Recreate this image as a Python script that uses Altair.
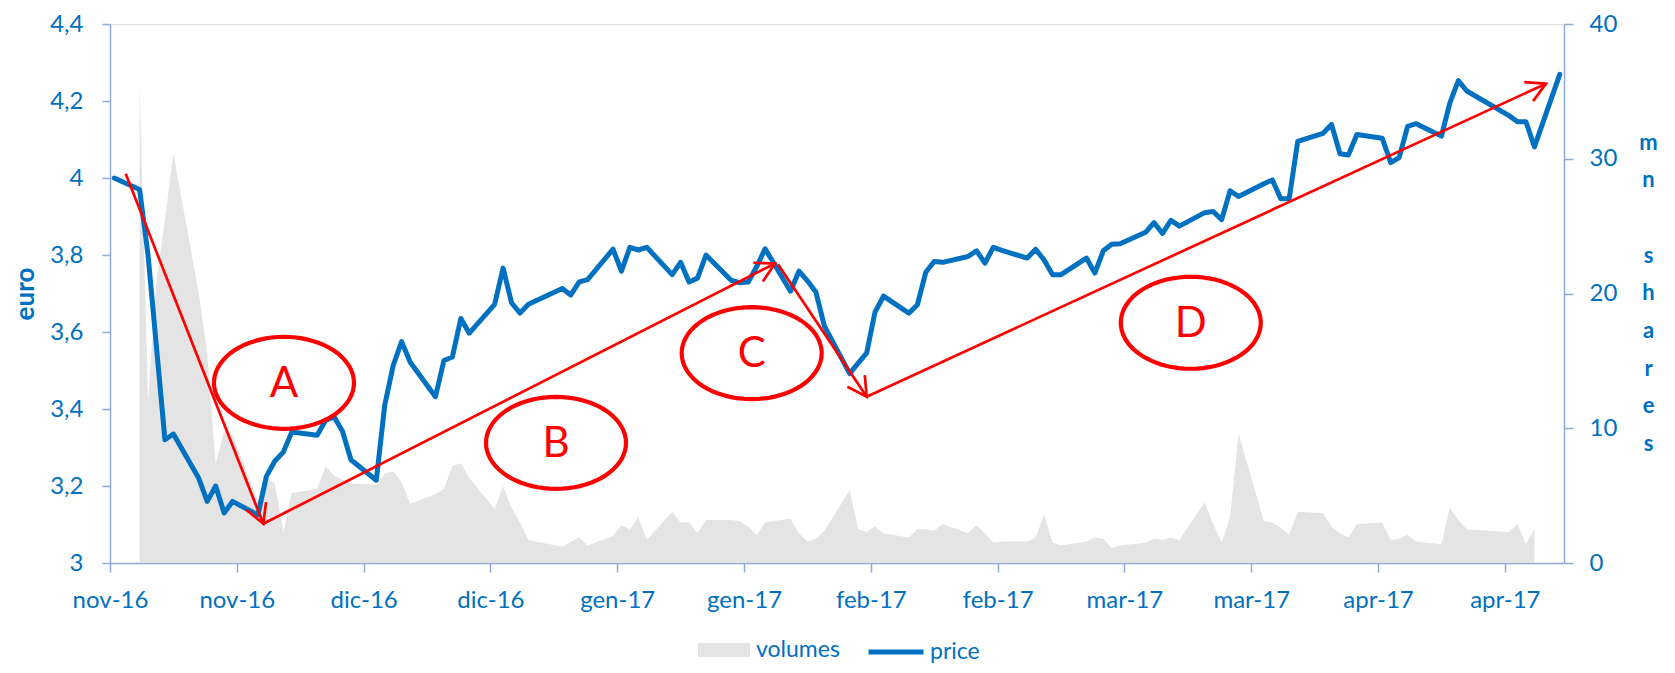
import math
import altair as alt
import pandas as pd

# ---------------- data ----------------
START = "2016-11-04"
END = "2017-04-24"
HOLIDAYS = ["2016-12-26", "2017-04-14", "2017-04-17"]

# daily closing price (euro), one value per trading day
price = [
    4.00,
    3.97, 3.80, 3.56, 3.32, 3.335,
    3.22, 3.16, 3.20, 3.13, 3.16,
    3.125, 3.225, 3.265, 3.288, 3.34,
    3.332, 3.37, 3.38, 3.342, 3.268,
    3.215, 3.41, 3.513, 3.575, 3.522,
    3.432, 3.526, 3.535, 3.635, 3.597,
    3.672, 3.766, 3.676, 3.649, 3.672,
    3.713, 3.696, 3.73, 3.736,
    3.815, 3.758, 3.82, 3.813, 3.82,
    3.749, 3.781, 3.73, 3.74, 3.80,
    3.734, 3.728, 3.73, 3.77, 3.816,
    3.706, 3.758, 3.733, 3.704, 3.616,
    3.492, 3.519, 3.545, 3.652, 3.693,
    3.649, 3.67, 3.755, 3.783, 3.781,
    3.796, 3.811, 3.779, 3.82, 3.812,
    3.792, 3.815, 3.787, 3.749, 3.749,
    3.792, 3.753, 3.811, 3.828, 3.829,
    3.859, 3.884, 3.856, 3.89, 3.875,
    3.91, 3.913, 3.892, 3.967, 3.952,
    3.985, 3.995, 3.946, 3.947, 4.095,
    4.116, 4.139, 4.063, 4.06, 4.113,
    4.103, 4.04, 4.053, 4.134, 4.141,
    4.109, 4.195, 4.253, 4.226,
    4.162, 4.146, 4.146, 4.081,
    4.269,
]

# daily volumes (mn shares), from the 2nd to the second-last trading day
volumes = [
    35.6, 12.0, 21.0, 25.5, 30.4,
    20.0, 15.6, 7.3, 9.8, 9.5,
    4.6, 6.3, 5.9, 2.3, 5.2,
    5.5, 7.2, 6.5, 6.2, 5.9,
    5.8, 6.6, 6.8, 6.0, 4.4,
    5.1, 5.5, 7.2, 7.4, 6.3,
    4.0, 5.7, 4.1, 3.0, 1.7,
    1.2, 1.6, 1.9, 1.3,
    2.0, 2.8, 2.5, 3.4, 1.7,
    3.8, 3.0, 3.0, 2.2, 3.2,
    3.2, 3.1, 2.7, 2.1, 3.0,
    3.3, 2.2, 1.6, 1.8, 2.4,
    5.4, 2.5, 2.3, 2.7, 2.2,
    1.9, 2.5, 2.5, 2.4, 2.9,
    2.2, 2.8, 2.2, 1.5, 1.6,
    1.6, 1.9, 3.6, 1.5, 1.3,
    1.6, 1.9, 1.8, 1.1, 1.3,
    1.5, 1.8, 1.7, 1.9, 1.7,
    4.5, 2.9, 1.5, 3.4, 9.6,
    3.1, 3.0, 2.6, 2.1, 3.8,
    3.7, 2.7, 2.2, 1.9, 2.9,
    3.0, 1.7, 1.8, 2.1, 1.6,
    1.4, 4.1, 3.2, 2.5,
    2.3, 2.9, 1.4, 2.5,
]

tick_labels = ["nov-16", "nov-16", "dic-16", "dic-16", "gen-17", "gen-17",
               "feb-17", "feb-17", "mar-17", "mar-17", "apr-17", "apr-17"]
TICK_STEP = 15  # days between axis ticks

# annotations (x in days from START, y in euro)
arrow_x1 = [1.86, 18.13, 79.02, 89.51]
arrow_y1 = [4.011, 3.102, 3.776, 3.432]
arrow_x2 = [18.13, 78.67, 89.51, 169.87]
arrow_y2 = [3.102, 3.778, 3.432, 4.245]
ell_labels = ["A", "B", "C", "D"]
ell_x = [20.58, 52.76, 75.91, 127.85]
ell_y = [3.468, 3.312, 3.545, 3.624]

# ---------------- build ----------------
BLUE = "#0070C0"
AXC = "#8EA9DB"
GRAY = "#E4E4E4"
RED = "#FF0000"
FONT = "Lato"

W, H = 1454, 539
t0 = pd.Timestamp(START)
ndays = (pd.Timestamp(END) - t0).days + 1
days = [d for d in pd.bdate_range(START, END) if d.strftime("%Y-%m-%d") not in HOLIDAYS]
tpos = [(d - t0).days + 0.5 for d in days]

price_df = pd.DataFrame({"t": tpos, "price": price, "lab": "price"})
vol_df = pd.DataFrame({"t": tpos[1:-1], "vol": volumes, "lab": "volumes"})

kx = W / ndays
ky = H / 1.4
angles = []
for a, b, c, d in zip(arrow_x1, arrow_y1, arrow_x2, arrow_y2):
    ang = math.degrees(math.atan2(-(d - b) * ky, (c - a) * kx)) % 360
    angles.append(ang)
arrows_df = pd.DataFrame({"x1": arrow_x1, "y1": arrow_y1, "x2": arrow_x2, "y2": arrow_y2, "ang": angles})
ell_df = pd.DataFrame({"x": ell_x, "y": ell_y, "lab": ell_labels})

CHEVRON = "M-1,-0.55L0,0L-1,0.55"
pts = []
for i in range(72):
    th = 2 * math.pi * i / 72
    pts.append(f"{math.cos(th):.4f},{0.657 * math.sin(th):.4f}")
ELLIPSE = "M" + "L".join(pts) + "Z"

xscale = alt.Scale(domain=[0, ndays], nice=False, zero=False)
pscale = alt.Scale(domain=[3, 4.4], nice=False, zero=False)
vscale = alt.Scale(domain=[0, 40], nice=False)

lab_js = "[" + ",".join(f"'{s}'" for s in tick_labels) + "]"
x_axis = alt.Axis(
    values=[TICK_STEP * k for k in range(len(tick_labels))],
    labelExpr=f"{lab_js}[round(datum.value/{TICK_STEP})]",
    title=None, grid=False, tickSize=9, tickWidth=1.5, domainWidth=1.5,
    domainColor=AXC, tickColor=AXC, labelFontSize=24, labelColor=BLUE,
    labelFont=FONT, labelPadding=16, labelFlush=False, labelOverlap=False,
)
left_axis = alt.Axis(
    orient="left", values=[3, 3.2, 3.4, 3.6, 3.8, 4, 4.2, 4.4],
    labelExpr="replace(format(datum.value, '.1~f'), '.', ',')",
    title="euro", grid=False, tickSize=8, tickWidth=1.5, domainWidth=1.5,
    domainColor=AXC, tickColor=AXC, labelFontSize=24, labelColor=BLUE,
    labelFont=FONT, labelPadding=19, titleFont=FONT, titleFontSize=26,
    titleFontWeight="bold", titleColor=BLUE, titlePadding=11,
)
right_axis = alt.Axis(
    orient="right", values=[0, 10, 20, 30, 40],
    title=["m", "n", "\u200b", "s", "h", "a", "r", "e", "s"],
    grid=False, tickSize=9, tickWidth=1.5, domainWidth=1.5,
    domainColor=AXC, tickColor=AXC, labelFontSize=24, labelColor=BLUE,
    labelFont=FONT, labelPadding=16, titleFont=FONT, titleFontSize=22,
    titleFontWeight="bold", titleColor=BLUE, titleAngle=0, titleAlign="center",
    titleBaseline="top", titleX=84, titleY=108, titleLineHeight=37.7,
)

area = alt.Chart(vol_df).mark_area(opacity=1).encode(
    x=alt.X("t:Q", scale=xscale, axis=x_axis),
    y=alt.Y("vol:Q", scale=vscale, axis=right_axis),
    fill=alt.Fill("lab:N", scale=alt.Scale(domain=["volumes"], range=[GRAY]),
                  legend=alt.Legend(orient="none", legendX=588, legendY=600, title=None,
                                    symbolType="M-1,-0.27H1V0.27H-1Z", symbolSize=2704,
                                    symbolStrokeWidth=0, labelFontSize=23, labelColor=BLUE,
                                    labelFont=FONT, labelOffset=6, padding=0)),
)

line = alt.Chart(price_df).mark_line(strokeWidth=5, strokeJoin="round", strokeCap="round").encode(
    x=alt.X("t:Q", scale=xscale, axis=x_axis),
    y=alt.Y("price:Q", scale=pscale, axis=left_axis),
    stroke=alt.Stroke("lab:N", scale=alt.Scale(domain=["price"], range=[BLUE]),
                      legend=alt.Legend(orient="none", legendX=756, legendY=598, title=None,
                                        symbolType="stroke", symbolSize=3025,
                                        symbolStrokeWidth=5, labelFontSize=23, labelColor=BLUE,
                                        labelFont=FONT, labelOffset=4, padding=0)),
)

rules = alt.Chart(arrows_df).mark_rule(color=RED, strokeWidth=2.7).encode(
    x=alt.X("x1:Q", scale=xscale, axis=x_axis),
    y=alt.Y("y1:Q", scale=pscale, axis=left_axis),
    x2="x2:Q", y2="y2:Q",
)
heads = alt.Chart(arrows_df).mark_point(shape=CHEVRON, size=1450, filled=False, color=RED,
                                        strokeWidth=2.7, opacity=1).encode(
    x=alt.X("x2:Q", scale=xscale, axis=x_axis),
    y=alt.Y("y2:Q", scale=pscale, axis=left_axis),
    angle=alt.Angle("ang:Q", scale=None),
)
ellipses = alt.Chart(ell_df).mark_point(shape=ELLIPSE, size=19600, filled=False, color=RED,
                                        strokeWidth=4.2, opacity=1).encode(
    x=alt.X("x:Q", scale=xscale, axis=x_axis),
    y=alt.Y("y:Q", scale=pscale, axis=left_axis),
)
letters = alt.Chart(ell_df).mark_text(font=FONT, fontSize=42, color=RED, align="center",
                                      baseline="middle", dy=1).encode(
    x=alt.X("x:Q", scale=xscale, axis=x_axis),
    y=alt.Y("y:Q", scale=pscale, axis=left_axis),
    text="lab:N",
)

chart = alt.layer(
    area,
    alt.layer(line, rules, heads, ellipses, letters),
).resolve_scale(y="independent").properties(
    width=W, height=H,
    padding={"left": 102, "top": 16, "right": 100, "bottom": 102},
    autosize=alt.AutoSizeParams(type="none"),
).configure_view(stroke=None).configure(background="white")

chart.save("out.html", embed_options={"renderer": "svg", "actions": False})
